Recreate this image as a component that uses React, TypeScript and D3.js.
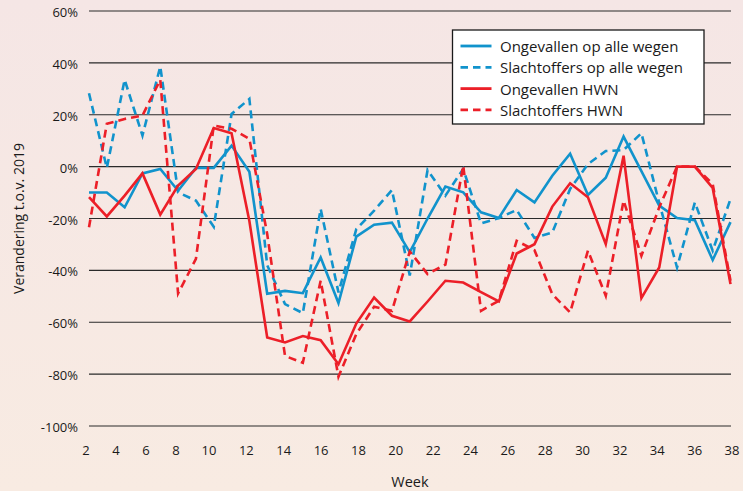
import React from "react";
import * as d3 from "d3";

// ---- data (weeks 2..38, % change vs 2019) ----
const weeks = [2, 3, 4, 5, 6, 7, 8, 9, 10, 11, 12, 13, 14, 15, 16, 17, 18, 19, 20, 21, 22, 23, 24, 25, 26, 27, 28, 29, 30, 31, 32, 33, 34, 35, 36, 37, 38];

const ongevallenAlle = [-10, -10, -15.7, -2.6, -0.9, -9.3, -0.5, -0.5, 8.1, -2, -49, -47.9, -48.8, -35, -52.6, -27, -22.4, -21.6, -33, -20, -7.7, -9.9, -17.6, -19.8, -9, -13.8, -3.5, 5, -10.9, -4.3, 11.6, -1.7, -15, -19.8, -20.7, -36, -21.4];
const slachtoffersAlle = [28.3, -0.5, 33.5, 12, 38.6, -9.9, -13.1, -23.2, 20.3, 26.1, -38, -53, -56.5, -16.3, -48.5, -24.1, -17, -9, -42, -1.3, -11.2, -0.9, -21.9, -19.8, -16.7, -27.5, -25.4, -8.6, 1, 6, 6.4, 12.9, -14, -38.9, -13.8, -32.4, -12.5];
const ongevallenHWN = [-11.8, -19.2, -11.2, -2.6, -18.5, -7.3, -0.9, 14.9, 12.9, -21, -65.9, -67.8, -65.3, -66.9, -76.2, -60.5, -50.5, -57.5, -59.7, -52, -44, -44.7, -48.4, -52, -33.5, -29.9, -15.4, -6.4, -11.8, -29.9, 4.2, -50.7, -38.9, 0, 0, -8.2, -45.3];
const slachtoffersHWN = [-23.4, 16.5, 18.4, 19.7, 33.5, -48.9, -35.6, 15.8, 14.6, 10.7, -26, -73, -75.6, -44, -81, -64.6, -54, -55.6, -32.7, -41.4, -37.8, 0.4, -55.6, -51.7, -28.6, -32.2, -49.2, -56.2, -32.4, -49.8, -13.1, -34.4, -15.7, 0, 0, -6.7, -44];

const yTicks = [60, 40, 20, 0, -20, -40, -60, -80, -100];
const xTickLabels = [2, 4, 6, 8, 10, 12, 14, 16, 18, 20, 22, 24, 26, 28, 30, 32, 34, 36, 38];

const seriesNames = ["Ongevallen op alle wegen", "Slachtoffers op alle wegen", "Ongevallen HWN", "Slachtoffers HWN"];
const seriesData = [ongevallenAlle, slachtoffersAlle, ongevallenHWN, slachtoffersHWN];
const seriesColors = ["#1193cc", "#1193cc", "#ec1f28", "#ec1f28"];
const seriesDashed = [false, true, false, true];

const W = 743;
const H = 491;
const FONT = "'Open Sans', sans-serif";

export default function App() {
  const x = d3.scaleLinear().domain([2, 38]).range([89, 730.5]);
  // tick labels in the source sit on their own (slightly uneven) positions
  const xLabel = d3.scaleLinear().domain([2, 8, 10, 38]).range([86, 176, 209, 732]);
  const y = d3.scaleLinear().domain([-100, 60]).range([426, 11]);

  const line = d3
    .line<number>()
    .x((_, i) => x(weeks[i]))
    .y((d) => y(d));

  const legendX = 452.5;
  const legendY = 30;
  const rowH = 21.3;

  return (
    <svg width={W} height={H} style={{ position: "absolute", left: 0, top: 0, display: "block" }}>
      <defs>
        <linearGradient id="bg" x1="0" y1="0" x2="0" y2="1">
          <stop offset="0" stopColor="#f5e6e5" />
          <stop offset="1" stopColor="#f8ebe2" />
        </linearGradient>
      </defs>
      <rect x={0} y={0} width={W} height={H} fill="url(#bg)" />

      {/* grid lines + y labels */}
      {yTicks.map((t) => (
        <g key={t}>
          <line x1={89} x2={731} y1={y(t)} y2={y(t)} stroke="#2a2a2a" strokeWidth={1.2} />
          <text
            x={78}
            y={y(t) + 1}
            textAnchor="end"
            dominantBaseline="central"
            fontFamily={FONT}
            fontSize={13}
            fill="#1a1a1a"
          >
            {`${t}%`}
          </text>
        </g>
      ))}

      {/* x labels */}
      {xTickLabels.map((t) => (
        <text key={t} x={xLabel(t)} y={455} textAnchor="middle" fontFamily={FONT} fontSize={13} fill="#1a1a1a">
          {t}
        </text>
      ))}

      <text x={410} y={487} textAnchor="middle" fontFamily={FONT} fontSize={14.5} fill="#1a1a1a">
        Week
      </text>
      <text
        transform={`translate(24, ${(y(60) + y(-100)) / 2}) rotate(-90)`}
        textAnchor="middle"
        fontFamily={FONT}
        fontSize={14}
        fill="#1a1a1a"
      >
        Verandering t.o.v. 2019
      </text>

      {/* series */}
      {seriesData.map((s, k) => (
        <path
          key={k}
          d={line(s) || ""}
          fill="none"
          stroke={seriesColors[k]}
          strokeWidth={2.6}
          strokeDasharray={seriesDashed[k] ? "8,5" : undefined}
          strokeLinejoin="miter"
        />
      ))}

      {/* legend */}
      <rect x={legendX} y={legendY} width={251.5} height={94} fill="#ffffff" stroke="#1a1a1a" strokeWidth={1.3} />
      {seriesNames.map((n, k) => {
        const cy = legendY + 16 + k * rowH;
        return (
          <g key={n}>
            <line
              x1={legendX + 8}
              x2={legendX + 39}
              y1={cy}
              y2={cy}
              stroke={seriesColors[k]}
              strokeWidth={2.8}
              strokeDasharray={seriesDashed[k] ? "7.5,5" : undefined}
            />
            <text x={legendX + 47.5} y={cy} dominantBaseline="central" fontFamily={FONT} fontSize={15} fill="#1a1a1a">
              {n}
            </text>
          </g>
        );
      })}
    </svg>
  );
}
